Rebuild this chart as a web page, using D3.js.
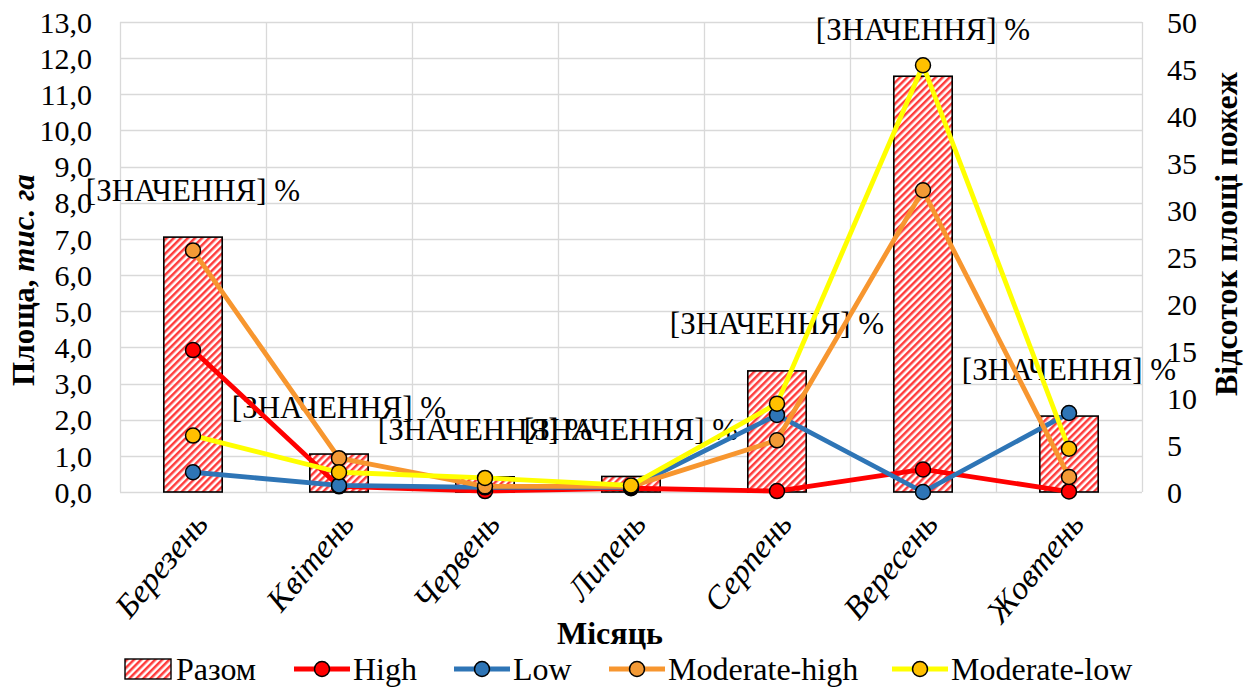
<!DOCTYPE html>
<html>
<head>
<meta charset="utf-8">
<script src="https://cdn.jsdelivr.net/npm/d3@7"></script>
<style>
  html, body { margin: 0; padding: 0; background: #fff; }
</style>
</head>
<body>
<svg id="chart" width="1253" height="690"></svg>
<script>
// Months shown on the x axis
const months = ["Березень", "Квітень", "Червень", "Липень", "Серпень", "Вересень", "Жовтень"];

// Total burned area per month, thousand ha (left axis)
const totalArea = [7.05, 1.05, 0.42, 0.43, 3.35, 11.5, 2.1];

// Share of burned area by severity class, % (right axis)
const highPct = [15.1, 0.6, 0.1, 0.4, 0.1, 2.4, 0.05];
const lowPct = [2.1, 0.7, 0.5, 0.5, 8.2, 0.0, 8.4];
const modHighPct = [25.7, 3.6, 0.6, 0.6, 5.5, 32.1, 1.6];
const modLowPct = [6.0, 2.1, 1.5, 0.7, 9.4, 45.4, 4.6];

// Axis ticks
const leftTicks = d3.range(0, 14, 1);
const rightTicks = d3.range(0, 55, 5);

// Placeholder text of the bar data labels
const barLabel = "[ЗНАЧЕННЯ] %";

const lineSeries = [
  { name: "High", values: highPct, line: "#ff0000", marker: "#ff0000" },
  { name: "Low", values: lowPct, line: "#2e75b6", marker: "#2e75b6" },
  { name: "Moderate-high", values: modHighPct, line: "#f7962f", marker: "#f39a36" },
  { name: "Moderate-low", values: modLowPct, line: "#ffff00", marker: "#ffc000" }
];

const FONT = "Liberation Serif";
const plot = { left: 120, right: 1142, top: 22, bottom: 492 };

const svg = d3.select("#chart");

// every text gets its font directly
const styled = (sel, size) => sel.attr("font-family", FONT).attr("font-size", size).attr("fill", "#000");

// Diagonal hatch used for the bars
const defs = svg.append("defs");
const pat = defs.append("pattern")
  .attr("id", "hatch")
  .attr("patternUnits", "userSpaceOnUse")
  .attr("width", 5).attr("height", 5)
  .attr("patternTransform", "rotate(45)");
pat.append("rect").attr("x", 0).attr("y", 0).attr("width", 5).attr("height", 5).attr("fill", "#ffffff").attr("fill-opacity", 0.6);
pat.append("rect").attr("x", 0).attr("y", 0).attr("width", 2.5).attr("height", 5).attr("fill", "#ff3b3b");

const x = d3.scaleBand().domain(months).range([plot.left, plot.right]).paddingInner(0.6).paddingOuter(0.3);
const step = x.step();
const cx = m => x(m) + x.bandwidth() / 2;

const yL = d3.scaleLinear().domain([0, 13]).range([plot.bottom, plot.top]);
const yR = d3.scaleLinear().domain([0, 50]).range([plot.bottom, plot.top]);

const grid = svg.append("g").attr("stroke", "#d9d9d9").attr("stroke-width", 1.3);
// horizontal gridlines
grid.selectAll("line.h").data(leftTicks).join("line")
  .attr("x1", plot.left).attr("x2", plot.right)
  .attr("y1", d => Math.round(yL(d)) + 0.5).attr("y2", d => Math.round(yL(d)) + 0.5);
// vertical gridlines at category boundaries
const bounds = d3.range(0, months.length + 1).map(i => plot.left + i * step);
grid.selectAll("line.v").data(bounds).join("line")
  .attr("x1", d => Math.round(d) + 0.5).attr("x2", d => Math.round(d) + 0.5)
  .attr("y1", plot.top).attr("y2", plot.bottom);

// Left axis labels
const leftAxis = d3.axisLeft(yL).tickValues(leftTicks).tickSize(0).tickPadding(0)
  .tickFormat(d => d3.format(".1f")(d).replace(".", ","));
svg.append("g").attr("transform", `translate(${plot.left - 28},0)`).call(leftAxis)
  .call(g => g.select(".domain").remove())
  .selectAll("text").call(styled, 30).attr("dy", "0.34em");

// Right axis labels
const rightAxis = d3.axisRight(yR).tickValues(rightTicks).tickSize(0).tickPadding(0);
svg.append("g").attr("transform", `translate(${plot.right + 25},0)`).call(rightAxis)
  .call(g => g.select(".domain").remove())
  .selectAll("text").call(styled, 30).attr("dy", "0.34em");

// Bars
svg.append("g").selectAll("rect").data(months).join("rect")
  .attr("x", m => x(m))
  .attr("y", (m, i) => yL(totalArea[i]))
  .attr("width", x.bandwidth())
  .attr("height", (m, i) => yL(0) - yL(totalArea[i]))
  .attr("fill", "url(#hatch)")
  .attr("stroke", "#000").attr("stroke-width", 1.6);

// Bar data labels
svg.append("g").selectAll("text").data(months).join("text")
  .call(styled, 31)
  .attr("x", m => cx(m))
  .attr("y", (m, i) => yL(totalArea[i]) - 47)
  .attr("text-anchor", "middle").attr("dominant-baseline", "central")
  .text(barLabel);

// Severity lines
const lineGen = d3.line().x((v, i) => cx(months[i])).y(v => yR(v));
lineSeries.forEach(s => {
  const g = svg.append("g");
  g.append("path").datum(s.values).attr("d", lineGen)
    .attr("fill", "none").attr("stroke", s.line).attr("stroke-width", 4.8).attr("stroke-linejoin", "round");
  g.selectAll("circle").data(s.values).join("circle")
    .attr("cx", (v, i) => cx(months[i])).attr("cy", v => yR(v)).attr("r", 7.5)
    .attr("fill", s.marker).attr("stroke", "#000").attr("stroke-width", 1.5);
});

// Category labels, rotated
svg.append("g").selectAll("text").data(months).join("text")
  .call(styled, 33)
  .attr("transform", m => `translate(${cx(m) + 8},${plot.bottom + 26}) rotate(-50)`)
  .attr("text-anchor", "end").attr("dominant-baseline", "central")
  .attr("font-style", "italic")
  .text(m => m);

// Axis titles
svg.append("text").call(styled, 32).attr("x", 610).attr("y", 633)
  .attr("text-anchor", "middle").attr("dominant-baseline", "central")
  .attr("font-weight", "bold").text("Місяць");

const lt = svg.append("text").call(styled, 31).attr("transform", "translate(23,280) rotate(-90)")
  .attr("text-anchor", "middle").attr("dominant-baseline", "central")
  .attr("font-weight", "bold");
lt.append("tspan").attr("font-family", FONT).text("Площа, ");
lt.append("tspan").attr("font-family", FONT).attr("font-style", "italic").text("тис. га");

svg.append("text").call(styled, 32).attr("transform", "translate(1226,234) rotate(-90)")
  .attr("text-anchor", "middle").attr("dominant-baseline", "central")
  .attr("font-weight", "bold").text("Відсоток площі пожеж");

// Legend
const leg = svg.append("g");
const ly = 669;
leg.append("rect").attr("x", 125).attr("y", ly - 10).attr("width", 46).attr("height", 20)
  .attr("fill", "url(#hatch)").attr("stroke", "#000").attr("stroke-width", 1.4);
leg.append("text").call(styled, 32).attr("x", 176).attr("y", ly).attr("dominant-baseline", "central").text("Разом");
const legStarts = [294, 454, 609, 892];
lineSeries.forEach((s, i) => {
  const x0 = legStarts[i];
  leg.append("line").attr("x1", x0).attr("x2", x0 + 56).attr("y1", ly).attr("y2", ly)
    .attr("stroke", s.line).attr("stroke-width", 4.8);
  leg.append("circle").attr("cx", x0 + 28).attr("cy", ly).attr("r", 7.5)
    .attr("fill", s.marker).attr("stroke", "#000").attr("stroke-width", 1.5);
  leg.append("text").call(styled, 32).attr("x", x0 + 59).attr("y", ly).attr("dominant-baseline", "central").text(s.name);
});
</script>
</body>
</html>
